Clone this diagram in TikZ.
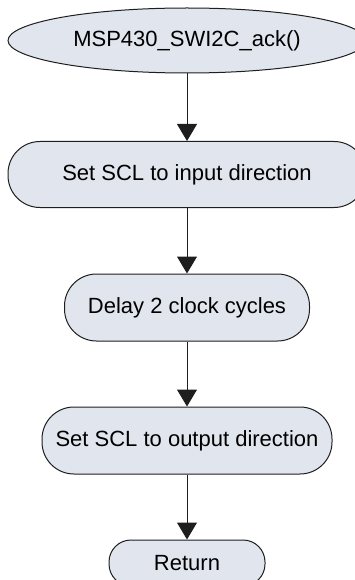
\documentclass[tikz,border=0pt]{standalone}
\usepackage{fontspec}
\setmainfont{Liberation Sans}
\usetikzlibrary{arrows.meta,shapes.geometric}
\definecolor{boxfill}{RGB}{225,230,238}
\definecolor{lineclr}{RGB}{30,30,30}
\begin{document}
\begin{tikzpicture}[x=1pt,y=-1pt,
  every node/.style={font=\fontsize{22}{26}\selectfont, text=black},
  term/.style={ellipse, draw=lineclr, fill=boxfill, line width=1pt, minimum width=358pt, minimum height=65pt, inner sep=0pt},
  stepbox/.style={rectangle, draw=lineclr, fill=boxfill, line width=1pt, minimum height=66pt, rounded corners=32pt, inner sep=0pt},
  flow/.style={draw=lineclr, line width=1pt, -{Triangle[width=20pt,length=17pt]}}
]
\useasboundingbox (0,0) rectangle (354,580);
\node[term] (start) at (187,40.5) {MSP430\_SWI2C\_ack()};
\node[stepbox, minimum width=358pt] (s1) at (187,174.5) {Set SCL to input direction};
\node[stepbox, minimum width=245pt, minimum height=67pt] (s2) at (187,307.5) {Delay 2 clock cycles};
\node[stepbox, minimum width=290pt, minimum height=67pt] (s3) at (187,440.5) {Set SCL to output direction};
\node[stepbox, minimum width=156pt, minimum height=46pt, rounded corners=22pt] (ret) at (187,563) {Return};
\draw[flow] (start) -- (s1);
\draw[flow] (s1) -- (s2);
\draw[flow] (s2) -- (s3);
\draw[flow] (s3) -- (ret);
\end{tikzpicture}
\end{document}
